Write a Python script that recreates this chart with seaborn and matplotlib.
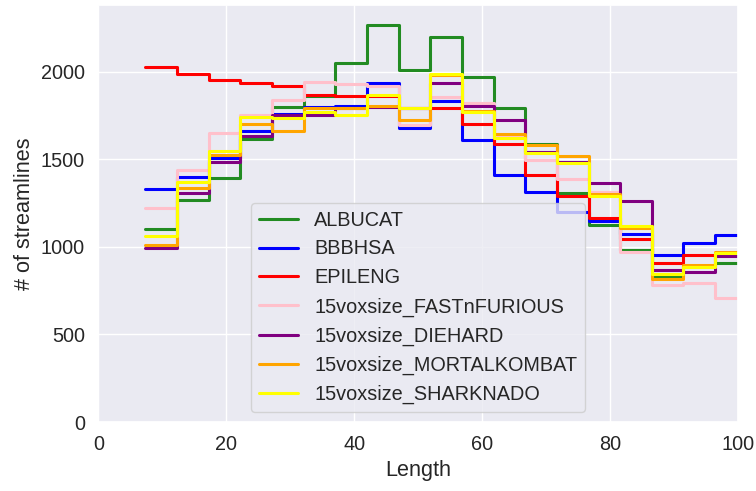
import numpy as np
import pandas as pd
import seaborn as sns
import matplotlib.pyplot as plt

# bin edges of the length histogram
bin_edges = [7.35, 12.3, 17.25, 22.2, 27.15, 32.1, 37.05, 42.0, 46.95, 51.9, 56.85,
             61.8, 66.75, 71.7, 76.65, 81.6, 86.55, 91.5, 96.45, 101.4]

names = ['ALBUCAT', 'BBBHSA', 'EPILENG', '15voxsize_FASTnFURIOUS',
         '15voxsize_DIEHARD', '15voxsize_MORTALKOMBAT', '15voxsize_SHARKNADO']
colors = ['forestgreen', 'blue', 'red', 'pink', 'purple', 'orange', 'yellow']

albucat = [1104, 1269, 1392, 1614, 1800, 1860, 2048, 2266, 2010, 2199,
           1969, 1794, 1586, 1307, 1122, 984, 835, 888, 909]
bbbhsa = [1329, 1398, 1510, 1662, 1757, 1800, 1805, 1937, 1681, 1835,
          1609, 1410, 1312, 1200, 1147, 1074, 951, 1021, 1068]
epileng = [2025, 1985, 1954, 1936, 1916, 1867, 1862, 1862, 1795, 1791,
           1700, 1586, 1413, 1288, 1166, 1043, 907, 955, 960]
fastnfurious = [1223, 1440, 1652, 1753, 1839, 1940, 1932, 1920, 1698, 1858,
                1822, 1638, 1494, 1388, 1316, 972, 780, 795, 708]
diehard = [993, 1307, 1487, 1635, 1755, 1753, 1790, 1797, 1790, 1934,
           1804, 1722, 1542, 1487, 1364, 1259, 869, 856, 945]
mortalkombat = [1012, 1335, 1523, 1700, 1664, 1790, 1791, 1805, 1722, 1980,
                1778, 1646, 1580, 1520, 1300, 1110, 818, 898, 972]
sharknado = [1064, 1368, 1550, 1740, 1738, 1772, 1753, 1867, 1790, 1988,
             1770, 1624, 1535, 1478, 1293, 1120, 847, 885, 965]

series = [albucat, bbbhsa, epileng, fastnfurious, diehard, mortalkombat, sharknado]

sns.set_theme(style='darkgrid', font_scale=1.3)
plt.rcParams['font.family'] = ['Liberation Sans', 'DejaVu Sans']

edges = np.array(bin_edges)
centers = (edges[:-1] + edges[1:]) / 2

fig = plt.figure(figsize=(7.56, 4.91), dpi=100)
ax = fig.add_axes([0.13, 0.1405, 0.846, 0.849])

for name, color, vals in zip(names, colors, series):
    df = pd.DataFrame({'Length': centers, 'count': vals})
    sns.histplot(data=df, x='Length', weights='count', bins=bin_edges,
                 element='step', fill=False, color=color, label=name,
                 linewidth=2.2, ax=ax)

ax.set_xlim(0, 100)
ax.set_ylim(0, 2380)
ax.set_yticks([0, 500, 1000, 1500, 2000])
ax.set_xlabel('Length')
ax.set_ylabel('# of streamlines')
ax.legend(loc='lower center')

fig.savefig('out.png', dpi=100)
